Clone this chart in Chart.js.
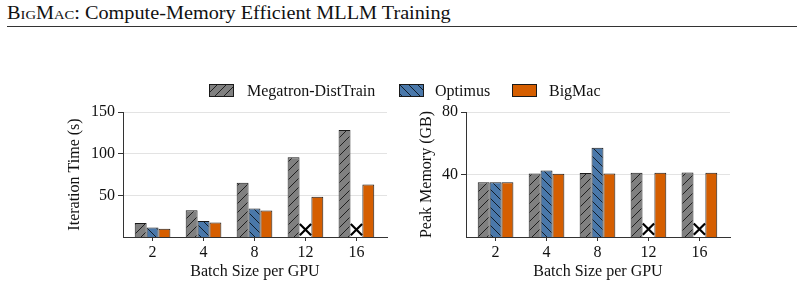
<!DOCTYPE html>
<html>
<head>
<meta charset="utf-8">
<script src="https://cdn.jsdelivr.net/npm/chart.js@4.4.1/dist/chart.umd.min.js"></script>
<style>
  body { margin:0; background:#fff; width:804px; height:291px; overflow:hidden; position:relative; font-family:'Liberation Serif', serif; }
  #head { position:absolute; left:7px; top:4px; font-size:18px; line-height:18px; color:#111; white-space:nowrap; transform:scaleX(1.125); transform-origin:0 0; }
  #head .sc { font-variant: small-caps; }
  #rule { position:absolute; left:7px; top:26px; width:790px; height:1px; background:#333; }
  #c1 { position:absolute; left:0; top:0; }
  #c2 { position:absolute; left:400px; top:0; }
  .lg { position:absolute; top:83px; font-size:16px; line-height:16px; color:#111; white-space:nowrap; }
  .sw { position:absolute; top:84px; }
</style>
</head>
<body>
<div id="head"><span class="sc">BigMac</span>: Compute-Memory Efficient MLLM Training</div>
<div id="rule"></div>
<canvas id="c1" width="400" height="291"></canvas>
<canvas id="c2" width="404" height="291"></canvas>

<canvas class="sw" id="sw1" width="25" height="13" style="left:209px"></canvas>
<div class="lg" style="left:247px">Megatron-DistTrain</div>
<canvas class="sw" id="sw2" width="25" height="13" style="left:399px"></canvas>
<div class="lg" style="left:435px">Optimus</div>
<canvas class="sw" id="sw3" width="25" height="13" style="left:512px"></canvas>
<div class="lg" style="left:549px">BigMac</div>

<script>
// data
const batchSizes = ['2', '4', '8', '12', '16'];

const megatronTime = [16.9, 32.2, 65.1, 95.7, 128.3];
const optimusTime  = [11.3, 19.3, 34.2, null, null];
const bigmacTime   = [10.0, 17.3, 31.8, 48.3, 63.1];
const oomTime      = [null, null, null, 8.8, 8.8];   // OOM cross marks

const megatronMem = [35.1, 40.7, 40.9, 41.1, 41.3];
const optimusMem  = [35.1, 42.6, 57.2, null, null];
const bigmacMem   = [35.1, 40.5, 40.7, 41.1, 41.1];
const oomMem      = [null, null, null, 5.0, 5.0];

const timeTicks = [50, 100, 150];
const memTicks  = [40, 80];

const GRAY = '#808080';
const BLUE = '#4a78aa';
const ORANGE = '#d55e00';
const EDGE = '#1a1a1a';
const TXT = '#111';
const FONT = { family: "'Liberation Serif', serif", size: 16 };

// hatch pattern like matplotlib '/' and '\'
function hatch(ctx, color, dir) {
  const s = 9;
  const c = document.createElement('canvas');
  c.width = s; c.height = s;
  const g = c.getContext('2d');
  g.fillStyle = color;
  g.fillRect(0, 0, s, s);
  g.strokeStyle = 'rgba(0,0,0,0.85)';
  g.lineWidth = 0.9;
  g.beginPath();
  if (dir === '/') {
    g.moveTo(-1, s + 1); g.lineTo(s + 1, -1);
    g.moveTo(-1, 1); g.lineTo(1, -1);
    g.moveTo(s - 1, s + 1); g.lineTo(s + 1, s - 1);
  } else {
    g.moveTo(-1, -1); g.lineTo(s + 1, s + 1);
    g.moveTo(s - 1, -1); g.lineTo(s + 1, 1);
    g.moveTo(-1, s - 1); g.lineTo(1, s + 1);
  }
  g.stroke();
  return ctx.createPattern(c, 'repeat');
}

function pts(arr) {
  return arr.map((v, i) => ({ x: i, y: v }));
}

function makeChart(id, o) {
  const ctx = document.getElementById(id).getContext('2d');
  const barBase = { borderColor: EDGE, borderWidth: 1, categoryPercentage: 0.7, barPercentage: 1.0 };
  return new Chart(ctx, {
    type: 'bar',
    data: {
      datasets: [
        Object.assign({ label: 'Megatron-DistTrain', data: pts(o.meg), backgroundColor: hatch(ctx, GRAY, '/') }, barBase),
        Object.assign({ label: 'Optimus', data: pts(o.opt), backgroundColor: hatch(ctx, BLUE, '\\') }, barBase),
        Object.assign({ label: 'BigMac', data: pts(o.big), backgroundColor: ORANGE }, barBase),
        {
          type: 'line', label: 'OOM', data: pts(o.oom), showLine: false,
          pointStyle: 'crossRot', pointRadius: 8, pointBorderWidth: 2.2,
          pointBorderColor: '#000', pointBackgroundColor: 'rgba(0,0,0,0)'
        }
      ]
    },
    options: {
      responsive: false,
      animation: false,
      layout: { padding: { top: 112, left: 0, right: o.padRight, bottom: 0 } },
      plugins: { legend: { display: false }, tooltip: { enabled: false } },
      scales: {
        x: {
          type: 'linear', min: -0.58, max: 4.6, offset: false,
          afterBuildTicks: s => { s.ticks = batchSizes.map((b, i) => ({ value: i })); },
          afterFit: s => { s.height = 54; },
          ticks: { callback: v => batchSizes[v], font: FONT, color: TXT, padding: 2, maxRotation: 0, autoSkip: false },
          grid: { offset: false, drawOnChartArea: false, drawTicks: true, tickLength: 4, tickColor: '#333' },
          border: { display: true, color: '#333', width: 1 },
          title: { display: true, text: 'Batch Size per GPU', font: FONT, color: TXT, padding: { top: 0, bottom: 9.4 } }
        },
        y: {
          min: 0, max: o.max,
          afterBuildTicks: s => { s.ticks = o.ticks.map(v => ({ value: v })); },
          afterFit: s => { s.width = o.axisW; },
          ticks: { font: FONT, color: TXT, padding: 3 },
          grid: { color: '#e3e3e3', tickColor: '#333', tickLength: 5 },
          border: { display: true, color: '#333', width: 1 },
          title: { display: true, text: o.ytitle, font: FONT, color: TXT, padding: { top: o.titlePad, bottom: 0 } }
        }
      }
    }
  });
}

makeChart('c1', {
  meg: megatronTime, opt: optimusTime, big: bigmacTime, oom: oomTime,
  max: 150, ticks: timeTicks, ytitle: 'Iteration Time (s)',
  axisW: 123, padRight: 13, titlePad: 65
});

makeChart('c2', {
  meg: megatronMem, opt: optimusMem, big: bigmacMem, oom: oomMem,
  max: 80, ticks: memTicks, ytitle: 'Peak Memory (GB)',
  axisW: 66, padRight: 74, titlePad: 17.4
});

// legend swatches
[['sw1', GRAY, '/'], ['sw2', BLUE, '\\'], ['sw3', ORANGE, null]].forEach(([id, col, dir]) => {
  const cv = document.getElementById(id);
  const g = cv.getContext('2d');
  g.fillStyle = dir ? hatch(g, col, dir) : col;
  g.fillRect(0, 0, cv.width, cv.height);
  g.strokeStyle = EDGE;
  g.lineWidth = 1;
  g.strokeRect(0.5, 0.5, cv.width - 1, cv.height - 1);
});
</script>
</body>
</html>
